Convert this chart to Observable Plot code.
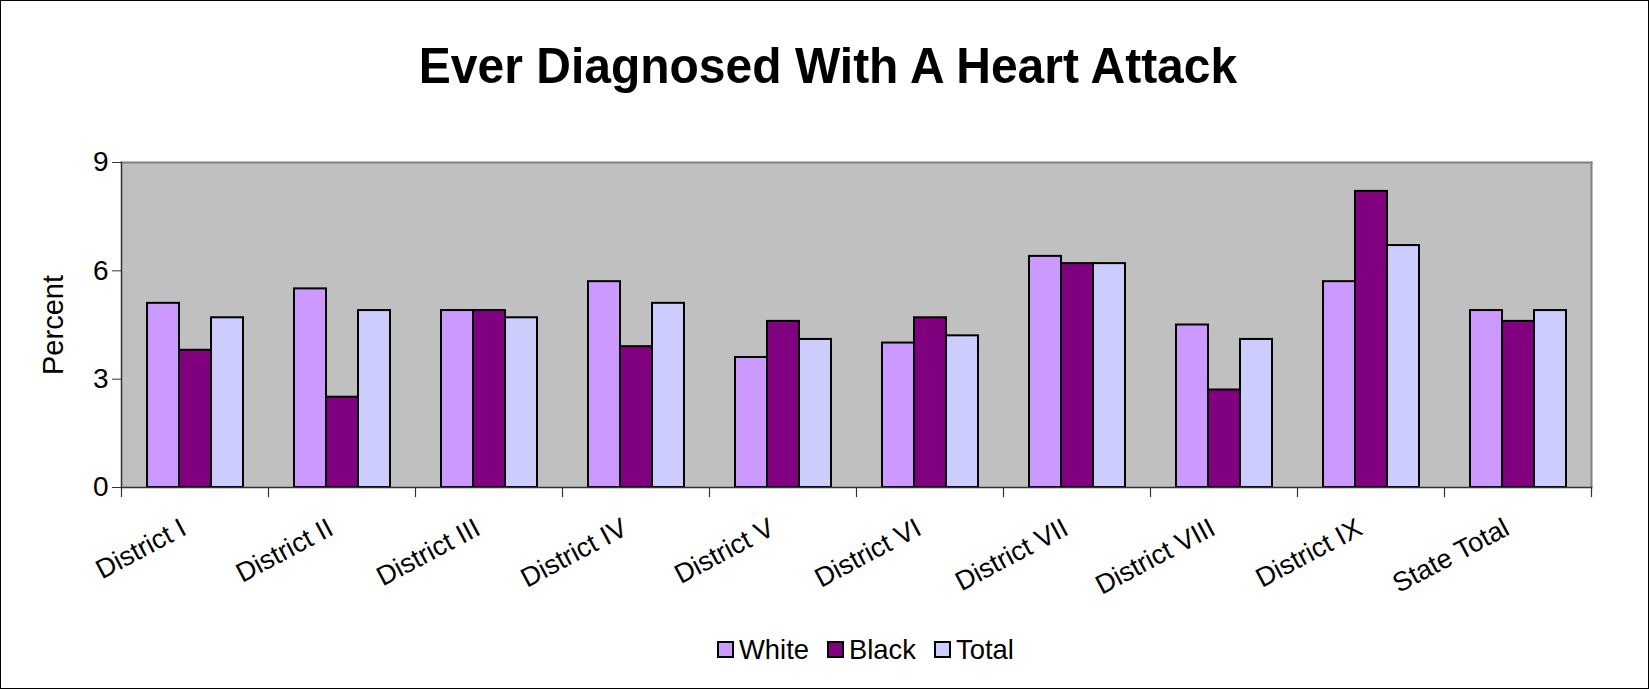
<!DOCTYPE html>
<html>
<head>
<meta charset="utf-8">
<script src="https://cdn.jsdelivr.net/npm/d3@7"></script>
<script src="https://cdn.jsdelivr.net/npm/@observablehq/plot@0.6"></script>
<style>
  html, body { margin: 0; padding: 0; background: #fff; }
  #chart { position: relative; width: 1649px; height: 689px; overflow: hidden; font-family: "Liberation Sans", Arial, sans-serif; }
  #border { position: absolute; left: 0; top: 0; width: 1649px; height: 689px; box-sizing: border-box; border: 1px solid #000; pointer-events: none; }
  #title { position: absolute; left: 828px; top: 41px; transform: translateX(-50%) scaleY(1.06); transform-origin: 50% 0; font-size: 48px; font-weight: bold; line-height: 1; white-space: nowrap; color: #000; }
  #plot { position: absolute; left: 0; top: 0; }
  #legend { position: absolute; left: 717px; top: 636px; display: flex; align-items: center; font-size: 27.4px; line-height: 1; color: #000; }
  .item { display: flex; align-items: center; margin-right: 18px; }
  .sw { width: 17px; height: 17px; box-sizing: border-box; border: 2px solid #000; margin-right: 5px; }
</style>
</head>
<body>
<div id="chart">
  <div id="title"></div>
  <div id="plot"></div>
  <div id="legend"></div>
  <div id="border"></div>
</div>
<script>
const titleText = "Ever Diagnosed With A Heart Attack";
const yLabel = "Percent";
const categories = ["District I", "District II", "District III", "District IV", "District V", "District VI", "District VII", "District VIII", "District IX", "State Total"];
const series = ["White", "Black", "Total"];
const colors = ["#CC99FF", "#800080", "#CCCCFF"];
const white = [5.1, 5.5, 4.9, 5.7, 3.6, 4.0, 6.4, 4.5, 5.7, 4.9];
const black = [3.8, 2.5, 4.9, 3.9, 4.6, 4.7, 6.2, 2.7, 8.2, 4.6];
const total = [4.7, 4.9, 4.7, 5.1, 4.1, 4.2, 6.2, 4.1, 6.7, 4.9];
const yTicks = [0, 3, 6, 9];

const valuesBySeries = [white, black, total];
const table = categories.flatMap((c, i) =>
  series.map((s, j) => ({category: c, series: s, value: valuesBySeries[j][i]}))
);

const W = 1649, H = 689;
const mTop = 162, mBottom = 202, mLeft = 121, mRight = 58;
const plotH = H - mTop - mBottom;

const chart = Plot.plot({
  width: W,
  height: H,
  marginTop: mTop,
  marginBottom: mBottom,
  marginLeft: mLeft,
  marginRight: mRight,
  style: {fontFamily: "'Liberation Sans', Arial, sans-serif", background: "transparent", color: "#000", overflow: "visible"},
  fx: {domain: categories, padding: 0, axis: null, label: null},
  x: {domain: series, paddingInner: 0, paddingOuter: 0.75, axis: null},
  y: {domain: [0, 9], axis: null},
  color: {domain: series, range: colors},
  marks: [
    Plot.frame({facet: "super", fill: "#C0C0C0", stroke: null}),
    Plot.barY(table, {fx: "category", x: "series", y: "value", fill: "series", stroke: "#000", strokeWidth: 2}),
    Plot.frame({facet: "super", anchor: "top", stroke: "#808080", strokeWidth: 2}),
    Plot.frame({facet: "super", anchor: "right", stroke: "#808080", strokeWidth: 2}),
    Plot.frame({facet: "super", anchor: "left", stroke: "#333", strokeWidth: 1.5}),
    Plot.frame({facet: "super", anchor: "bottom", stroke: "#333", strokeWidth: 1.5}),
    Plot.frame({anchor: "left", insetTop: plotH, insetBottom: -9, stroke: "#333", strokeWidth: 1.2}),
    Plot.frame({facet: "super", anchor: "right", insetTop: plotH, insetBottom: -9, stroke: "#333", strokeWidth: 1.2}),
    Plot.axisY({ticks: yTicks, tickSize: 9, tickPadding: 4, fontSize: 28, stroke: "#333", label: null}),
    Plot.axisY({ticks: [], tickSize: 0, fontSize: 29, label: yLabel, labelAnchor: "center", labelArrow: "none", labelOffset: 79}),
    Plot.axisFx({anchor: "bottom", tickSize: 0, tickRotate: -28, fontSize: 27, label: null, dx: -11, dy: 26})
  ]
});
document.getElementById("plot").appendChild(chart);
document.getElementById("title").textContent = titleText;

const legend = document.getElementById("legend");
series.forEach((s, j) => {
  const item = document.createElement("div");
  item.className = "item";
  const sw = document.createElement("div");
  sw.className = "sw";
  sw.style.background = colors[j];
  const t = document.createElement("span");
  t.textContent = s;
  item.appendChild(sw);
  item.appendChild(t);
  legend.appendChild(item);
});
</script>
</body>
</html>
